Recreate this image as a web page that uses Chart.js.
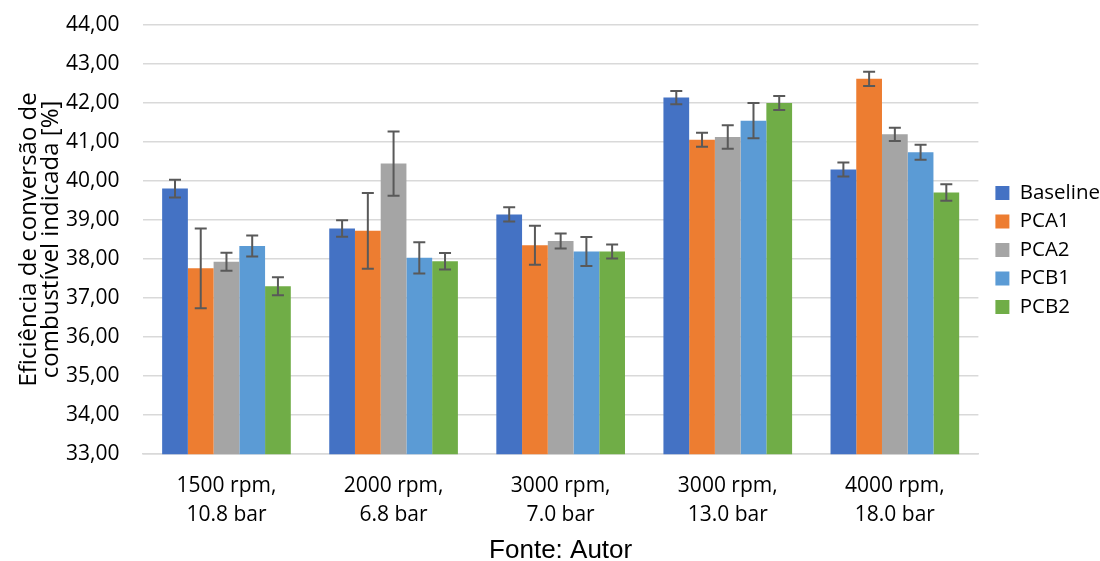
<!DOCTYPE html>
<html>
<head>
<meta charset="utf-8">
<script src="https://cdn.jsdelivr.net/npm/chart.js@4/dist/chart.umd.min.js"></script>
<style>
html,body{margin:0;padding:0;background:#fff;}
#wrap{width:1100px;height:561px;position:relative;}
</style>
</head>
<body>
<div id="wrap"><canvas id="c" width="1100" height="561"></canvas></div>
<script>
const categories = [
  ['1500 rpm,', '10.8 bar'],
  ['2000 rpm,', '6.8 bar'],
  ['3000 rpm,', '7.0 bar'],
  ['3000 rpm,', '13.0 bar'],
  ['4000 rpm,', '18.0 bar']
];
const seriesNames = ['Baseline', 'PCA1', 'PCA2', 'PCB1', 'PCB2'];
const baseline = [39.80, 38.78, 39.14, 42.13, 40.29];
const pca1     = [37.76, 38.72, 38.35, 41.05, 42.61];
const pca2     = [37.93, 40.44, 38.46, 41.12, 41.19];
const pcb1     = [38.33, 38.03, 38.19, 41.54, 40.73];
const pcb2     = [37.30, 37.94, 38.19, 41.99, 39.70];
const errBaseline = [0.23, 0.21, 0.18, 0.17, 0.18];
const errPca1     = [1.02, 0.97, 0.50, 0.18, 0.18];
const errPca2     = [0.23, 0.82, 0.19, 0.30, 0.17];
const errPcb1     = [0.27, 0.40, 0.37, 0.45, 0.19];
const errPcb2     = [0.23, 0.21, 0.18, 0.18, 0.21];
const yMin = 33, yMax = 44, yStep = 1;
const yTitle = ['Eficiência de conversão de', 'combustível indicada [%]'];
const xTitle = 'Fonte: Autor';

const colors = ['#4472C4', '#ED7D31', '#A5A5A5', '#5B9BD5', '#70AD47'];
const values = [baseline, pca1, pca2, pcb1, pcb2];
const errors = [errBaseline, errPca1, errPca2, errPcb1, errPcb2];

const FONT = "'Open Sans', 'Liberation Sans', sans-serif";
const ARIAL = "'Liberation Sans', Arial, sans-serif";

const errorBarPlugin = {
  id: 'errorBars',
  afterDatasetsDraw(chart) {
    const ctx = chart.ctx;
    const yScale = chart.scales.y;
    ctx.save();
    ctx.strokeStyle = '#595959';
    ctx.lineWidth = 2;
    chart.data.datasets.forEach((ds, di) => {
      const meta = chart.getDatasetMeta(di);
      if (meta.hidden) return;
      meta.data.forEach((bar, i) => {
        const v = ds.data[i], e = ds.errors[i];
        const x = bar.x;
        const yTop = yScale.getPixelForValue(v + e);
        const yBot = yScale.getPixelForValue(v - e);
        const half = 6;
        ctx.beginPath();
        ctx.moveTo(x, yTop); ctx.lineTo(x, yBot);
        ctx.moveTo(x - half, yTop); ctx.lineTo(x + half, yTop);
        ctx.moveTo(x - half, yBot); ctx.lineTo(x + half, yBot);
        ctx.stroke();
      });
    });
    ctx.restore();
  }
};

// shift the legend drawing a little to match the reference placement
const legendShift = { dx: 9, dy: 10.5 };
const legendShiftPlugin = {
  id: 'legendShift',
  afterLayout(chart) {
    const lg = chart.legend;
    if (lg && !lg._shifted) {
      const orig = lg.draw.bind(lg);
      lg.draw = function () {
        const c = this.ctx;
        c.save();
        c.translate(legendShift.dx, legendShift.dy);
        orig();
        c.restore();
      };
      lg._shifted = true;
    }
  }
};

new Chart(document.getElementById('c'), {
  type: 'bar',
  data: {
    labels: categories,
    datasets: seriesNames.map((name, k) => ({
      label: name,
      data: values[k],
      errors: errors[k],
      backgroundColor: colors[k],
      borderWidth: 0,
      categoryPercentage: 0.77,
      barPercentage: 1.0
    }))
  },
  options: {
    responsive: false,
    animation: false,
    devicePixelRatio: 1,
    layout: { padding: { top: 0, right: -1, left: 14, bottom: 0 } },
    plugins: {
      legend: {
        position: 'right',
        fullSize: false,
        align: 'center',
        labels: {
          boxWidth: 14, boxHeight: 14, padding: 8,
          color: '#000',
          font: { family: FONT, size: 20.5 }
        }
      },
      tooltip: { enabled: false }
    },
    scales: {
      x: {
        grid: { display: false, drawTicks: false },
        border: { color: '#d9d9d9', width: 1.5 },
        ticks: { color: '#000', font: { family: FONT, size: 21, lineHeight: 1.38 }, padding: 17, maxRotation: 0 },
        title: { display: true, text: xTitle, color: '#000', font: { family: ARIAL, size: 26, lineHeight: 0.8 }, padding: { top: -6, bottom: 0 } }
      },
      y: {
        min: yMin, max: yMax,
        grid: { color: '#d9d9d9', lineWidth: 1.5, drawTicks: false },
        border: { display: false },
        ticks: {
          stepSize: yStep, color: '#000', padding: 23.5,
          font: { family: FONT, size: 21, lineHeight: 0.1 },
          callback: v => v.toFixed(2).replace('.', ',')
        },
        title: { display: true, text: yTitle, color: '#000', font: { family: FONT, size: 24, lineHeight: 0.92 }, padding: { top: 4, bottom: -19.7 } }
      }
    }
  },
  plugins: [errorBarPlugin, legendShiftPlugin]
});
</script>
</body>
</html>
